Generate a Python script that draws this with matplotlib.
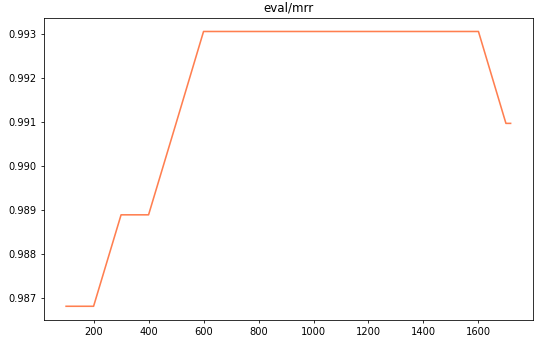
import matplotlib
matplotlib.use("Agg")
import matplotlib.pyplot as plt

# eval/mrr by step
steps = [100, 200, 300, 400, 500, 600, 700, 800, 900, 1000, 1100, 1200,
         1300, 1400, 1500, 1600, 1700, 1717]
mrr = [0.98681, 0.98681, 0.98889, 0.98889, 0.99097, 0.99306, 0.99306,
       0.99306, 0.99306, 0.99306, 0.99306, 0.99306, 0.99306, 0.99306,
       0.99306, 0.99306, 0.99097, 0.99097]

# original looks like a larger figure scaled down to 535 px wide
fig = plt.figure(figsize=(7.5, 4.81), dpi=71.33)
ax = fig.add_axes([0.082, 0.067, 0.914, 0.881])
ax.plot(steps, mrr, color="#ff7f50", linewidth=1.6)
ax.set_title("eval/mrr")
ax.set_xticks(range(200, 1601, 200))

fig.savefig("out.png", dpi=71.33)
